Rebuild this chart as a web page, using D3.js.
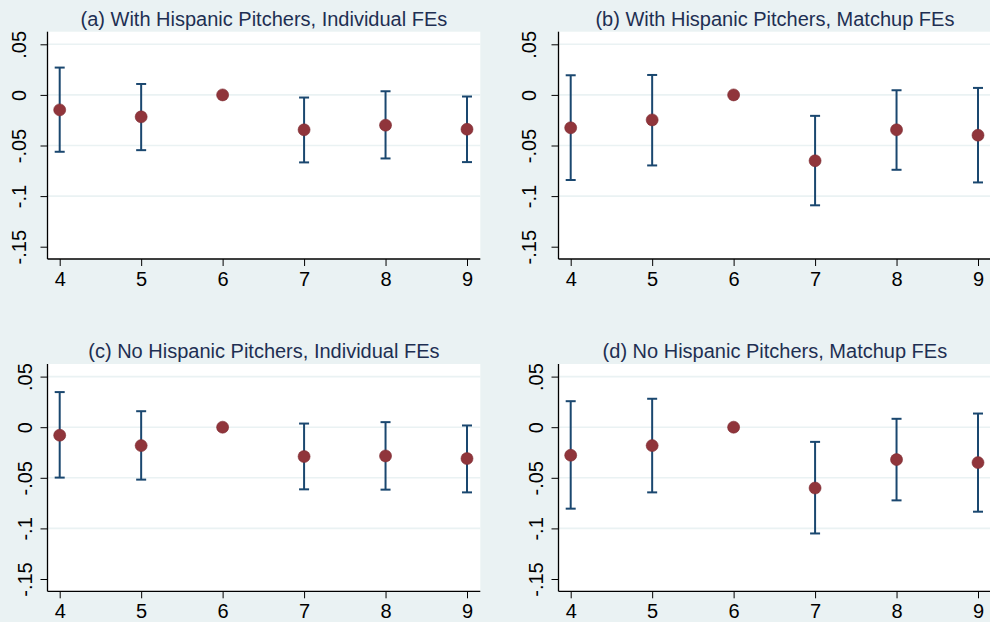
<!DOCTYPE html>
<html>
<head>
<meta charset="utf-8">
<script src="https://cdn.jsdelivr.net/npm/d3@7"></script>
<style>
  html, body { margin: 0; padding: 0; background: #eaf2f3; }
  svg { display: block; font-family: "Liberation Sans", Arial, sans-serif; }
</style>
</head>
<body>
<svg></svg>
<script>
// data
let bins = [4, 5, 6, 7, 8, 9]
let yTicks = [0.05, 0, -0.05, -0.1, -0.15]
let yTickLabels = ['.05', '0', '-.05', '-.1', '-.15']
let titles = [
  '(a) With Hispanic Pitchers, Individual FEs',
  '(b) With Hispanic Pitchers, Matchup FEs',
  '(c) No Hispanic Pitchers, Individual FEs',
  '(d) No Hispanic Pitchers, Matchup FEs'
]

let estA = [-0.0148, -0.0217, 0, -0.0345, -0.0299, -0.0339]
let loA  = [-0.0562, -0.0546, 0, -0.0667, -0.0628, -0.0664]
let hiA  = [ 0.0270,  0.0108, 0, -0.0026,  0.0036, -0.0016]

let estB = [-0.0325, -0.0247, 0, -0.0651, -0.0345, -0.0398]
let loB  = [-0.0841, -0.0697, 0, -0.1091, -0.0740, -0.0865]
let hiB  = [ 0.0194,  0.0197, 0, -0.0207,  0.0046,  0.0069]

let estC = [-0.0079, -0.0182, 0, -0.0290, -0.0284, -0.0310]
let loC  = [-0.0498, -0.0518, 0, -0.0614, -0.0617, -0.0644]
let hiC  = [ 0.0347,  0.0158, 0,  0.0036,  0.0050,  0.0017]

let estD = [-0.0277, -0.0182, 0, -0.0601, -0.0320, -0.0350]
let loD  = [-0.0805, -0.0644, 0, -0.1050, -0.0723, -0.0835]
let hiD  = [ 0.0257,  0.0281, 0, -0.0145,  0.0083,  0.0135]

const w = 990
const h = 622
const bg = '#eaf2f3'

let panels = [
  { title: titles[0], est: estA, lo: loA, hi: hiA, ox: 0,   oy: 0,     gap: 21.5 },
  { title: titles[1], est: estB, lo: loB, hi: hiB, ox: 511, oy: 0,     gap: 22.5 },
  { title: titles[2], est: estC, lo: loC, hi: hiC, ox: 0,   oy: 332.3, gap: 16 },
  { title: titles[3], est: estD, lo: loD, hi: hiD, ox: 511, oy: 332.3, gap: 16 }
]

// plot region inside each panel
const plotL = 47.5, plotR = 480.3, plotT = 31.7, plotB = 259

let svg = d3.select('svg').attr('width', w).attr('height', h)
svg.append('rect').attr('width', w).attr('height', h).attr('fill', bg)

let xScale = d3.scaleLinear().domain([4, 9]).range([59.7, 467])
let yScale = d3.scaleLinear().domain([-0.15, 0.05]).range([246.7, 44.3])

let drawPanel = (p) => {
  let g = svg.append('g').attr('transform', 'translate(' + p.ox + ',' + p.oy + ')')

  g.append('rect')
    .attr('x', plotL).attr('y', plotT)
    .attr('width', plotR - plotL).attr('height', plotB - plotT)
    .attr('fill', '#ffffff')

  // gridlines (none at the bottom tick)
  g.selectAll('.grid')
    .data(yTicks.filter(d => d > -0.149))
    .enter()
    .append('line')
    .attr('x1', plotL).attr('x2', plotR)
    .attr('y1', d => yScale(d)).attr('y2', d => yScale(d))
    .attr('stroke', bg).attr('stroke-width', 1.6)

  g.append('text')
    .attr('x', (plotL + plotR) / 2).attr('y', 25.5)
    .attr('text-anchor', 'middle')
    .attr('font-size', 20)
    .attr('fill', '#1e2f52')
    .text(p.title)

  let yAxis = d3.axisLeft(yScale)
    .tickValues(yTicks)
    .tickFormat((d, i) => yTickLabels[i])
    .tickSize(7)
    .tickSizeOuter(0)

  let ya = g.append('g').attr('transform', 'translate(' + plotL + ',0)').call(yAxis)
  ya.select('.domain').remove()
  ya.selectAll('line').attr('stroke', '#000')
  ya.selectAll('text')
    .attr('transform', 'rotate(-90)')
    .attr('x', 0).attr('y', -p.gap).attr('dy', 0)
    .attr('text-anchor', 'middle')
    .attr('font-size', 20)
    .attr('fill', '#000')

  let xAxis = d3.axisBottom(xScale)
    .tickValues(bins)
    .tickFormat(d3.format('d'))
    .tickSize(7)
    .tickSizeOuter(0)

  let xa = g.append('g').attr('transform', 'translate(0,' + plotB + ')').call(xAxis)
  xa.select('.domain').remove()
  xa.selectAll('line').attr('stroke', '#000')
  xa.selectAll('text')
    .attr('y', 27).attr('dy', 0)
    .attr('font-size', 20)
    .attr('fill', '#000')

  // axis lines span the whole plot region
  g.append('line')
    .attr('x1', plotL).attr('x2', plotL).attr('y1', plotT).attr('y2', plotB)
    .attr('stroke', '#000').attr('stroke-width', 1.3)
  g.append('line')
    .attr('x1', plotL).attr('x2', plotR).attr('y1', plotB).attr('y2', plotB)
    .attr('stroke', '#000').attr('stroke-width', 1.3)

  let rows = bins.map((b, i) => ({ bin: b, est: p.est[i], lo: p.lo[i], hi: p.hi[i] }))
  let withCI = rows.filter(d => d.lo !== d.hi)

  g.selectAll('.ci')
    .data(withCI)
    .enter()
    .append('line')
    .attr('x1', d => xScale(d.bin)).attr('x2', d => xScale(d.bin))
    .attr('y1', d => yScale(d.hi)).attr('y2', d => yScale(d.lo))
    .attr('stroke', '#1a476f').attr('stroke-width', 2)

  let caps = withCI.flatMap(d => [{ bin: d.bin, v: d.hi }, { bin: d.bin, v: d.lo }])
  g.selectAll('.cap')
    .data(caps)
    .enter()
    .append('line')
    .attr('x1', d => xScale(d.bin) - 5).attr('x2', d => xScale(d.bin) + 5)
    .attr('y1', d => yScale(d.v)).attr('y2', d => yScale(d.v))
    .attr('stroke', '#1a476f').attr('stroke-width', 2)

  g.selectAll('.pt')
    .data(rows)
    .enter()
    .append('circle')
    .attr('cx', d => xScale(d.bin))
    .attr('cy', d => yScale(d.est))
    .attr('r', 6)
    .attr('fill', '#90353b')
    .attr('stroke', '#7c2a30').attr('stroke-width', 0.6)
}

panels.forEach(drawPanel)
</script>
</body>
</html>
